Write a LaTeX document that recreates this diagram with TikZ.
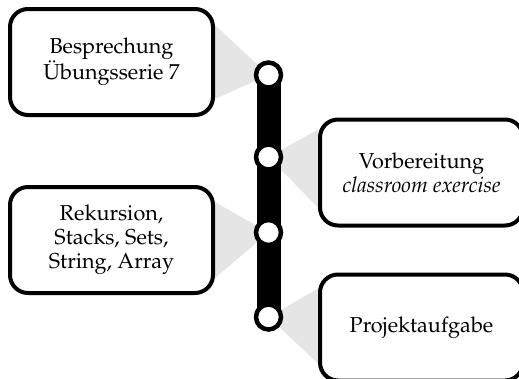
\documentclass[tikz,border=0pt]{standalone}
\usepackage[T1]{fontenc}
\usepackage{mathpazo}
\usetikzlibrary{backgrounds}

\begin{document}
\begin{tikzpicture}[x=1pt, y=-1pt,
    topicbox/.style={draw, line width=4pt, fill=white, rounded corners=18pt,
        minimum width=203pt, minimum height=106pt, align=center,
        font=\fontsize{21.6}{24}\selectfont},
    stopdot/.style={circle, draw, line width=4.5pt, fill=white,
        minimum size=25pt, inner sep=0pt},
    wedge/.style={fill=black!10}]
    \useasboundingbox (0,0) rectangle (519,378);

    % Topics
    \node[topicbox] (besprechung) at (111.5,62) {Besprechung\\Übungsserie 7};
    \node[topicbox] (vorbereitung) at (421.5,172.5) {Vorbereitung\\\textit{classroom exercise}};
    \node[topicbox] (rekursion) at (111.5,240) {Rekursion,\\Stacks, Sets,\\String, Array};
    \node[topicbox] (projekt) at (421.5,327.5) {Projektaufgabe};

    % Stops on the line
    \node[stopdot] (stop1) at (268.5,75) {};
    \node[stopdot] (stop2) at (268.5,157) {};
    \node[stopdot] (stop3) at (268.5,232.5) {};
    \node[stopdot] (stop4) at (268.5,317) {};

    % Wedges and the line, behind everything
    \begin{scope}[on background layer]
        \fill[wedge] (stop1.center) -- ([yshift=-18pt]besprechung.north east)
            -- ([yshift=18pt]besprechung.south east) -- cycle;
        \fill[wedge] (stop2.center) -- ([yshift=-12pt]vorbereitung.north west)
            -- ([yshift=20pt]vorbereitung.south west) -- cycle;
        \fill[wedge] (stop3.center) -- ([yshift=-17pt]rekursion.north east)
            -- ([yshift=17pt]rekursion.south east) -- cycle;
        \fill[wedge] (stop4.center) -- ([yshift=-16pt]projekt.north west)
            -- ([yshift=19pt]projekt.south west) -- cycle;
        \draw[line width=24pt] (stop1.center) -- (stop4.center);
    \end{scope}
\end{tikzpicture}
\end{document}
